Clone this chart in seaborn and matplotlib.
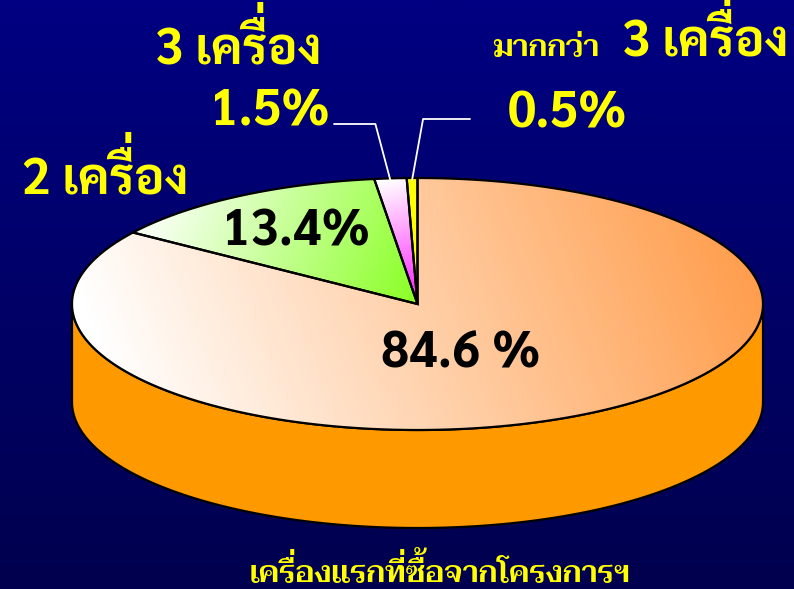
import numpy as np
import matplotlib
matplotlib.use("Agg")
import matplotlib.pyplot as plt
from matplotlib.patches import Polygon
from matplotlib.textpath import TextPath
from matplotlib.font_manager import FontProperties
import seaborn as sns

# ==========================================
# DATA
# ==========================================
shares = [84.6, 13.4, 1.5, 0.5]
slice_labels = ["84.6 %", "13.4%", "1.5%", "0.5%"]
group_names = ["1 เครื่อง", "2 เครื่อง", "3 เครื่อง", "3 เครื่อง"]
more_than = "มากกว่า"
title = "เครื่องแรกที่ซื้อจากโครงการฯ"

# top-face gradients (light end, dark end) and side colour
top_colors = [("#FFFFFF", "#FF9C4A"), ("#F6FFF0", "#8CFF28"),
              ("#FFFFFF", "#FF22FF"), ("#FFFF00", "#FFFF00")]
side_colors = ["#FF9900", "#66CC00", "#CC00CC", "#CCCC00"]

# ==========================================
# LAYOUT (pixels)
# ==========================================
W, H = 794, 589
CX, CY, RX, RY, DEPTH = 417.5, 304, 345.5, 126, 98
BOLD = ["Sarabun", "DejaVu Sans"]
THIN = ["Taviraj", "Trirong", "Sarabun", "DejaVu Sans"]
YELLOW = "#FFFF00"
PX = 100 / 72  # points -> pixels

TONES = "\u0e48\u0e49\u0e4a\u0e4b"
UPPER = "\u0e31\u0e34\u0e35\u0e36\u0e37"


def ell(theta_deg, dy=0.0):
    t = np.radians(theta_deg)
    return np.column_stack([CX + RX * np.cos(t), CY - RY * np.sin(t) + dy])


def grad_fill(ax, xy, c0, c1, p0, p1, z):
    patch = Polygon(xy, closed=True, fc="none", ec="black", lw=1.6, zorder=z + 0.5)
    ax.add_patch(patch)
    x0, y0 = xy.min(0)
    x1, y1 = xy.max(0)
    nx, ny = max(int(x1 - x0) + 2, 2), max(int(y1 - y0) + 2, 2)
    X, Y = np.meshgrid(np.linspace(x0, x1, nx), np.linspace(y0, y1, ny))
    d = np.array(p1) - np.array(p0)
    t = ((X - p0[0]) * d[0] + (Y - p0[1]) * d[1]) / (d @ d)
    cmap = sns.blend_palette([c0, c1], as_cmap=True)
    im = ax.imshow(np.clip(t, 0, 1), cmap=cmap, vmin=0, vmax=1,
                   extent=(x0, x1, y1, y0), origin="upper",
                   interpolation="bilinear", aspect="auto", zorder=z)
    im.set_clip_path(patch)


def outline(s, fp, size):
    # vertices and codes of a string laid out from pen 0 (points)
    if not s:
        return np.zeros((0, 2)), np.zeros(0, dtype=int)
    p = TextPath((0, 0), s, size=size, prop=fp)
    v = np.asarray(p.vertices)
    c = np.asarray(p.codes) if p.codes is not None else np.ones(len(v), dtype=int)
    return v, c


def ink(v, c):
    return v[c != 79]


def thai_text(ax, x, y, s, size, family, ha="center", weight="normal", color=YELLOW):
    """Draw s with its ink aligned at x; a tone mark sitting on an upper
    vowel is drawn as its own text, lifted above the vowel."""
    fp = FontProperties(family=family, weight=weight, size=size)
    raised = [i for i, ch in enumerate(s) if ch in TONES and i > 0 and s[i - 1] in UPPER]
    base = "".join(ch for i, ch in enumerate(s) if i not in raised)
    bi = ink(*outline(base, fp, size))
    xmin, xmax = bi[:, 0].min(), bi[:, 0].max()
    anchor = {"center": (xmin + xmax) / 2, "left": xmin, "right": xmax}[ha]
    x0 = x - anchor * PX
    kw = dict(fontsize=size, family=family, fontweight=weight, color=color,
              va="baseline", ha="left", zorder=7)
    ax.text(x0, y, base, **kw)
    for i in raised:
        v_pv, _ = outline(s[:i - 1], fp, size)
        v_pre, c_pre = outline(s[:i], fp, size)
        v_full, c_full = outline(s[:i + 1], fp, size)
        vowel = ink(v_pre[len(v_pv):], c_pre[len(v_pv):])
        mark = ink(v_full[len(v_pre):], c_full[len(v_pre):])
        lone = ink(*outline(" " + s[i], fp, size))
        pen = mark[:, 0].min() - lone[:, 0].min()
        lift = max(vowel[:, 1].max() - mark[:, 1].min() + 0.05 * size, 0)
        ax.text(x0 + pen * PX, y - lift * PX, " " + s[i], **kw)


sns.set_style("white")
fig = plt.figure(figsize=(W / 100, H / 100), dpi=100)
ax = fig.add_axes([0, 0, 1, 1])
ax.set_axis_off()

# background: navy vertical gradient
bg = np.linspace(0, 1, 200).reshape(-1, 1)
ax.imshow(bg, cmap=sns.blend_palette(["#000082", "#00004E"], as_cmap=True),
          extent=(0, W, H, 0), aspect="auto", zorder=0)

# slice angles: start at 12 o'clock, run clockwise
fr = np.array(shares) / sum(shares) * 360
starts = 90 - np.concatenate([[0], np.cumsum(fr)[:-1]])
ends = starts - fr

# side wall (front half only)
for a_hi, a_lo, col in zip(starts, ends, side_colors):
    for k in range(-2, 2):
        lo, hi = max(a_lo, -180 + 360 * k), min(a_hi, 360 * k)
        if hi > lo:
            ang = np.linspace(hi, lo, 200)
            xy = np.vstack([ell(ang), ell(ang[::-1], DEPTH)])
            ax.add_patch(Polygon(xy, closed=True, fc=col, ec="black", lw=1.6, zorder=2))

# top face
grad_dirs = [((130, 430), (740, 200)), ((170, 195), (412, 302)),
             ((385, 180), (417, 300)), ((405, 180), (417, 300))]
for a_hi, a_lo, (c0, c1), (p0, p1) in zip(starts, ends, top_colors, grad_dirs):
    ang = np.linspace(a_hi, a_lo, max(int(abs(a_hi - a_lo) * 2), 4))
    xy = np.vstack([[CX, CY], ell(ang)])
    grad_fill(ax, xy, c0, c1, p0, p1, 3)

# labels on the slices
thai_text(ax, 460.5, 367, slice_labels[0], 36, BOLD, weight="bold", color="black")
thai_text(ax, 297.5, 245, slice_labels[1], 36, BOLD, weight="bold", color="black")

# outside labels
thai_text(ax, 105, 193, group_names[1], 36, BOLD, weight="bold")
thai_text(ax, 237.5, 63, group_names[2], 36, BOLD, weight="bold")
thai_text(ax, 271.5, 125, slice_labels[2], 36, BOLD, weight="bold")
thai_text(ax, 785, 56, group_names[3], 36, BOLD, ha="right", weight="bold")
thai_text(ax, 546, 56, more_than, 22, THIN, weight="semibold")
thai_text(ax, 567.5, 128, slice_labels[3], 36, BOLD, weight="bold")

# leader lines to the two thin slices
mid = (starts + ends) / 2
for i, (lx, ly) in zip([2, 3], [(334, 124), (470, 119)]):
    tip = ell(mid[i])[0]
    kx = tip[0] - 15 if i == 2 else tip[0] + 11
    ax.plot([lx, kx, tip[0]], [ly, ly, tip[1] + 2], color="white", lw=1.3, zorder=5)

# title under the pie
thai_text(ax, 440, 582, title, 22, THIN, weight="semibold")

ax.set_xlim(0, W)
ax.set_ylim(H, 0)
fig.savefig("out.png", dpi=100)
